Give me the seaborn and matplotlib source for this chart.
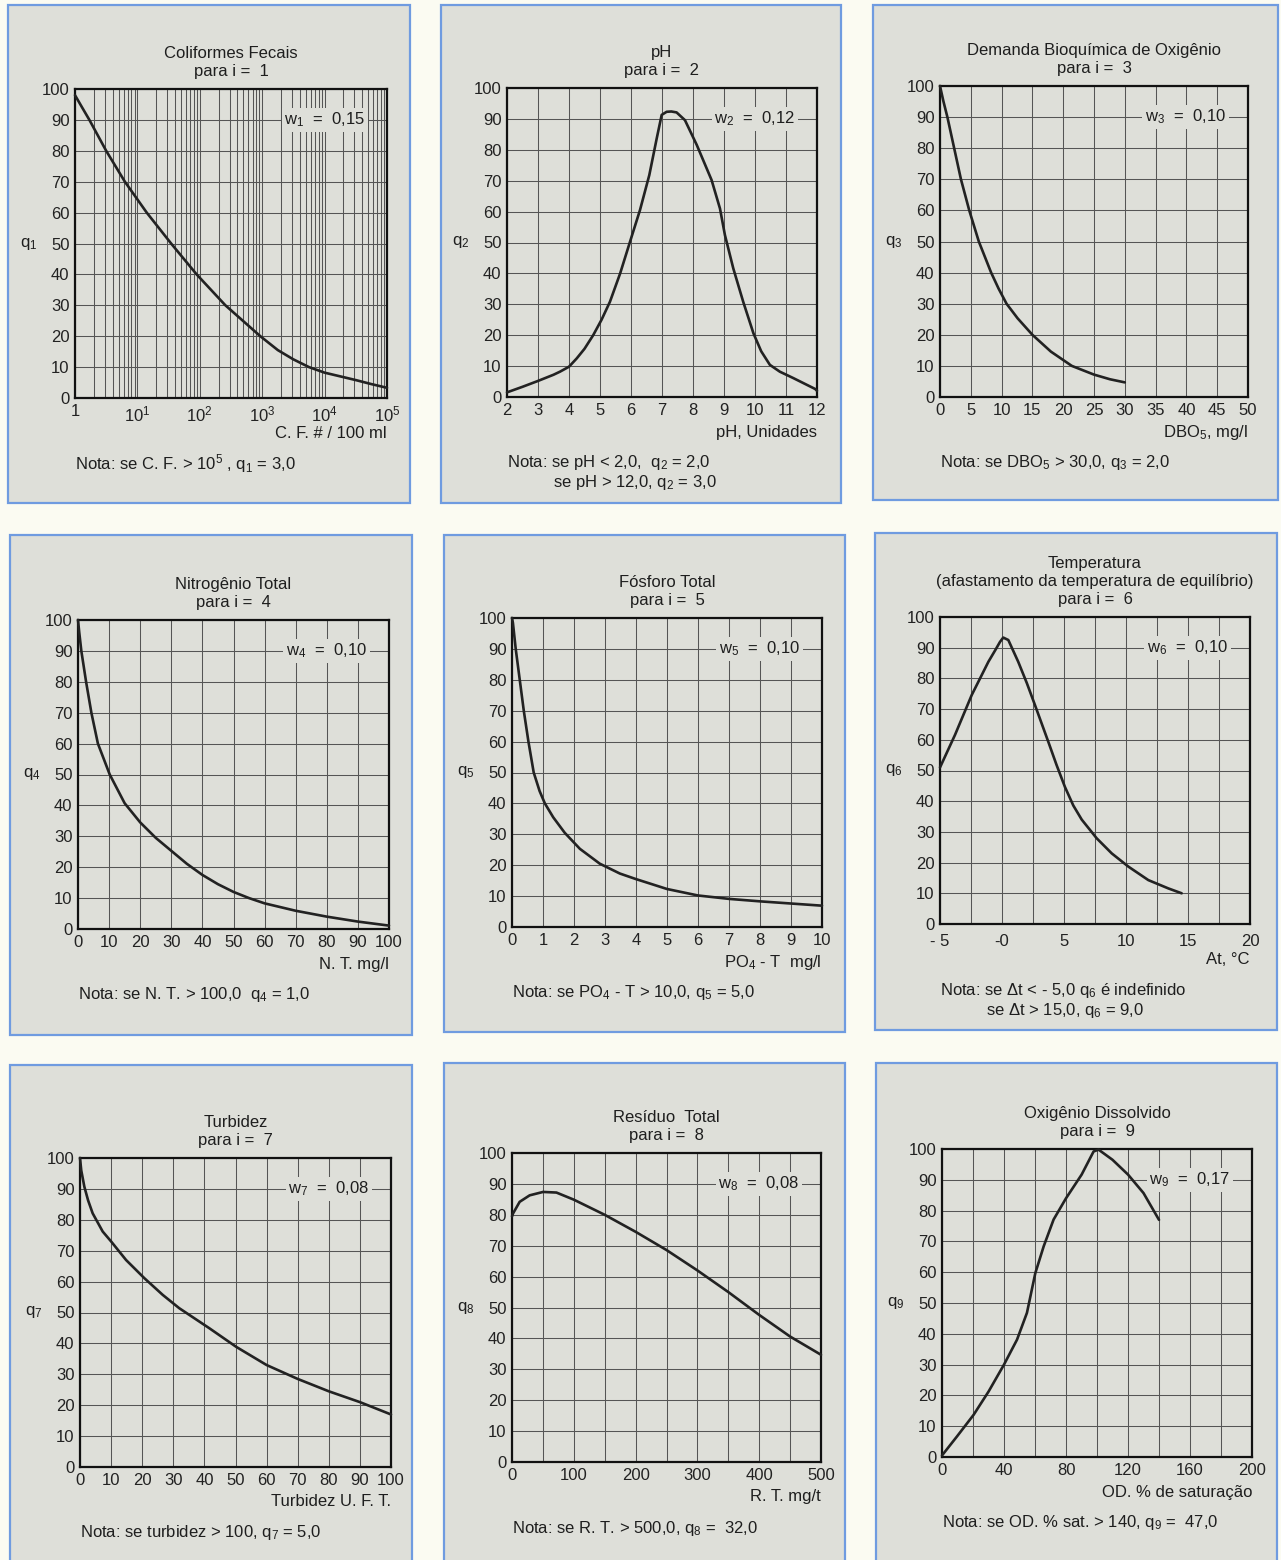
#!/usr/bin/env python3
"""Curvas de qualidade (IQA) - nove painéis q_i em função de cada parâmetro."""

import matplotlib
matplotlib.use("Agg")
import matplotlib.pyplot as plt
import seaborn as sns
from matplotlib.patches import Rectangle
from matplotlib.ticker import MultipleLocator, LogLocator, FixedLocator, FixedFormatter, NullFormatter

sns.set_theme(style="white")
plt.rcParams["font.family"] = ["Liberation Sans", "DejaVu Sans"]
plt.rcParams["mathtext.fontset"] = "custom"
plt.rcParams["mathtext.rm"] = "Liberation Sans"
plt.rcParams["mathtext.it"] = "Liberation Sans:italic"
plt.rcParams["text.color"] = "#1e1e1e"

W, H = 1281, 1560
PANEL_BG = "#dedfd9"
PAGE_BG = "#fbfbf2"
FRAME = "#6f9be0"
INK = "#222222"
GRID = "#555555"

# ---- data ----
cf_x = [1, 1.26, 1.7, 3.16, 6.3, 14.1, 34.7, 89, 257, 933, 1780, 3160, 5620,
        10000, 17800, 31600, 56200, 100000]
cf_q = [98, 94.5, 90, 80, 70, 60, 50, 40, 30, 20, 15.5, 12.5, 10,
        8.2, 7.0, 5.8, 4.5, 3.3]

ph_x = [2, 2.5, 3, 3.5, 3.71, 4.0, 4.25, 4.5, 4.78, 5.05, 5.32, 5.65, 5.97, 6.29,
        6.59, 6.83, 6.99, 7.15, 7.3, 7.47, 7.74, 8.12, 8.6, 8.87, 9.03, 9.3, 9.62,
        9.95, 10.2, 10.48, 10.8, 11.24, 11.6, 11.94, 12]
ph_q = [1.5, 3.3, 5.2, 7.2, 8.2, 9.8, 12.5, 15.6, 20, 25, 30.8, 40, 50.3, 60.5,
        71.8, 83.7, 91.3, 92.3, 92.4, 92.1, 89.6, 81.6, 70.2, 61, 52.4, 41.6, 30.8,
        20.6, 14.8, 10.4, 8.2, 6.1, 4.3, 2.6, 2]

dbo_x = [0, 0.54, 1.2, 2.3, 3.4, 4.75, 6.3, 8.3, 9.5, 10.8, 12.6, 15, 18, 21.4,
         25, 27.6, 30]
dbo_q = [100, 95.2, 90, 80, 70, 60, 50, 40, 34.9, 30, 25.3, 20, 14.6, 10,
         7.2, 5.7, 4.7]

nt_x = [0, 0.4, 1.07, 2.6, 4.3, 6.4, 10.2, 15, 20, 25, 30, 35, 40, 45, 50, 55,
        60, 70, 80, 90, 100]
nt_q = [100, 96, 90, 80, 70, 60, 50, 40.7, 34.5, 29.5, 25.3, 21.1, 17.5, 14.5, 12, 10,
        8.3, 5.9, 4.0, 2.4, 1.1]

po_x = [0, 0.03, 0.12, 0.25, 0.38, 0.53, 0.7, 0.89, 1.06, 1.33, 1.7, 2.19, 2.83,
        3.48, 4, 5, 6, 7, 8, 9, 10]
po_q = [100, 98.4, 90, 80, 70, 60, 50, 44, 40, 35.5, 30.5, 25.3, 20.5,
        17.3, 15.5, 12.3, 10.2, 9.1, 8.3, 7.6, 6.9]

t_x = [-5, -3.79, -2.44, -1.1, -0.5, -0.16, 0.1, 0.51, 1.31, 2.0, 2.66, 3.73, 4.4,
       5.08, 5.75, 6.43, 7.64, 8.85, 10.19, 11.8, 13.41, 14.49]
t_q = [51, 61.6, 74.6, 85.4, 89.5, 91.9, 93.3, 92.5, 85.4, 78.5, 71.3, 59.4, 51.8,
       44.6, 38.6, 34, 27.9, 23, 18.7, 14.3, 11.6, 10]

tb_x = [0, 0.4, 1.4, 2.6, 4.07, 7.3, 10, 14.8, 20.7, 26.6, 31.9, 41.6, 50.2, 60,
        70, 80, 90, 100]
tb_q = [100, 96, 90.7, 86.3, 82.1, 76.2, 73, 67, 61.1, 55.7, 51.4, 44.9, 38.9, 33,
        28.5, 24.5, 21, 17]

rt_x = [0, 1.6, 12.4, 28.6, 50.3, 71.9, 100, 150, 200, 250, 300, 350, 400, 450, 500]
rt_q = [79.5, 80.4, 84.2, 86.3, 87.4, 87.2, 84.9, 80, 74.5, 68.6, 62, 55, 47.6, 40.6, 34.7]

od_x = [0, 9.7, 20.4, 30.1, 40, 48.4, 54.8, 60.2, 65.6, 72, 80, 90.1, 97.8, 101,
        110, 120, 130, 140]
od_q = [0.5, 6.7, 13.7, 21.3, 30, 38.1, 46.8, 59.7, 68.4, 77.1, 84, 91.7, 99.2, 99.8,
        96.5, 91.7, 85.7, 77]

titles = [
    "Coliformes Fecais\npara i =  1",
    "pH\npara i =  2",
    "Demanda Bioquímica de Oxigênio\npara i =  3",
    "Nitrogênio Total\npara i =  4",
    "Fósforo Total\npara i =  5",
    "Temperatura\n(afastamento da temperatura de equilíbrio)\npara i =  6",
    "Turbidez\npara i =  7",
    "Resíduo  Total\npara i =  8",
    "Oxigênio Dissolvido\npara i =  9",
]
weights = ["0,15", "0,12", "0,10", "0,10", "0,10", "0,10", "0,08", "0,08", "0,17"]
xlabels = [
    "C. F. # / 100 ml",
    "pH, Unidades",
    r"DBO$_\mathrm{5}$, mg/l",
    "N. T. mg/l",
    r"PO$_\mathrm{4}$ - T  mg/l",
    "At, °C",
    "Turbidez U. F. T.",
    "R. T. mg/t",
    "OD. % de saturação",
]
notes = [
    (r"Nota: se C. F. > 10$^\mathrm{5}$ , q$_\mathrm{1}$ = 3,0", None),
    (r"Nota: se pH < 2,0,  q$_\mathrm{2}$ = 2,0", r"se pH > 12,0, q$_\mathrm{2}$ = 3,0"),
    (r"Nota: se DBO$_\mathrm{5}$ > 30,0, q$_\mathrm{3}$ = 2,0", None),
    (r"Nota: se N. T. > 100,0  q$_\mathrm{4}$ = 1,0", None),
    (r"Nota: se PO$_\mathrm{4}$ - T > 10,0, q$_\mathrm{5}$ = 5,0", None),
    (r"Nota: se Δt < - 5,0 q$_\mathrm{6}$ é indefinido", r"se Δt > 15,0, q$_\mathrm{6}$ = 9,0"),
    (r"Nota: se turbidez > 100, q$_\mathrm{7}$ = 5,0", None),
    (r"Nota: se R. T. > 500,0, q$_\mathrm{8}$ =  32,0", None),
    (r"Nota: se OD. % sat. > 140, q$_\mathrm{9}$ =  47,0", None),
]

cf_ticks = [1, 10, 100, 1000, 10000, 100000]
cf_ticklabels = ["1", r"10$^\mathrm{1}$", r"10$^\mathrm{2}$", r"10$^\mathrm{3}$",
                 r"10$^\mathrm{4}$", r"10$^\mathrm{5}$"]
t_ticks = [-5, 0, 5, 10, 15, 20]
t_ticklabels = ["- 5", "-0", "5", "10", "15", "20"]

series = [(cf_x, cf_q), (ph_x, ph_q), (dbo_x, dbo_q), (nt_x, nt_q), (po_x, po_q),
          (t_x, t_q), (tb_x, tb_q), (rt_x, rt_q), (od_x, od_q)]
# (xmin, xmax, label step, grid step)
xaxes = [(1, 1e5, None, None), (2, 12, 1, 1), (0, 50, 5, 5), (0, 100, 10, 10),
         (0, 10, 1, 1), (-5, 20, 5, 2.5), (0, 100, 10, 10), (0, 500, 100, 50),
         (0, 200, 40, 20)]

# ---- layout in pixels: plot boxes and blue frames ----
axes_px = [(75, 89, 387, 398), (507, 88, 817, 397), (940, 86, 1248, 397),
           (78, 620, 389, 929), (512, 618, 822, 927), (940, 617, 1250, 924),
           (80, 1158, 391, 1467), (512, 1153, 821, 1462), (942, 1149, 1252, 1457)]
frames_px = [(8, 5, 410, 503), (441, 5, 841, 503), (873, 5, 1278, 500),
             (10, 535, 412, 1035), (444, 535, 845, 1032), (875, 533, 1277, 1030),
             (10, 1065, 412, 1570), (444, 1063, 845, 1570), (876, 1063, 1277, 1570)]

PT = 0.72  # points per pixel at 100 dpi
FS = 12

fig = plt.figure(figsize=(W / 100, H / 100), dpi=100)
fig.patch.set_facecolor(PAGE_BG)

for (l, t, r, b) in frames_px:
    fig.patches.append(Rectangle((l / W, 1 - b / H), (r - l) / W, (b - t) / H,
                                 transform=fig.transFigure, facecolor=PANEL_BG,
                                 edgecolor=FRAME, linewidth=1.6, zorder=-5))

for i in range(9):
    l, t, r, b = axes_px[i]
    ax = fig.add_axes([l / W, 1 - b / H, (r - l) / W, (b - t) / H])
    ax.set_facecolor(PANEL_BG)
    xs, qs = series[i]
    sns.lineplot(x=xs, y=qs, ax=ax, color=INK, linewidth=1.9, estimator=None,
                 sort=False, clip_on=False, zorder=5)

    xmin, xmax, step, gstep = xaxes[i]
    if i == 0:
        ax.set_xscale("log")
        ax.xaxis.set_major_locator(FixedLocator(cf_ticks))
        ax.xaxis.set_major_formatter(FixedFormatter(cf_ticklabels))
        ax.xaxis.set_minor_locator(LogLocator(base=10, subs=range(2, 10)))
        ax.xaxis.set_minor_formatter(NullFormatter())
    elif i == 5:
        ax.xaxis.set_major_locator(FixedLocator(t_ticks))
        ax.xaxis.set_major_formatter(FixedFormatter(t_ticklabels))
        ax.xaxis.set_minor_locator(MultipleLocator(gstep))
    else:
        ax.xaxis.set_major_locator(MultipleLocator(step))
        ax.xaxis.set_minor_locator(MultipleLocator(gstep))
    ax.set_xlim(xmin, xmax)
    ax.set_ylim(0, 100)
    ax.yaxis.set_major_locator(MultipleLocator(10))

    ax.set_axisbelow(True)
    ax.grid(which="major", color=GRID, linewidth=0.75)
    ax.grid(which="minor", axis="x", color=GRID, linewidth=0.75)
    ax.tick_params(which="both", length=0, labelsize=FS, colors=INK)
    ax.tick_params(axis="x", pad=7.5 if i == 5 else 4.5)
    ax.tick_params(axis="y", pad=4)
    for s in ax.spines.values():
        s.set_color("#111111")
        s.set_linewidth(1.6)
    ax.set_xlabel("")
    ax.set_ylabel("")

    # title block above the plot
    ax.annotate(titles[i], xy=(0.5, 1), xycoords="axes fraction",
                xytext=(0, 7.5), textcoords="offset points", ha="center", va="bottom",
                fontsize=FS, linespacing=1.25)
    # q_i label on the left
    ax.annotate(r"q$_\mathrm{%d}$" % (i + 1), xy=(0, 0.5), xycoords="axes fraction",
                xytext=(-46 * PT, 0), textcoords="offset points", ha="center",
                va="center", fontsize=FS)
    # weight label on the 90 grid line
    ax.annotate(r"w$_\mathrm{%d}$  =  %s" % (i + 1, weights[i]), xy=(1, 0.9),
                xycoords="axes fraction", xytext=(-22 * PT, 0),
                textcoords="offset points", ha="right", va="center", fontsize=FS,
                zorder=4, bbox=dict(boxstyle="square,pad=0.15", fc=PANEL_BG, ec="none"))
    # x axis label, right aligned under the ticks
    ax.annotate(xlabels[i], xy=(1, 0), xycoords="axes fraction",
                xytext=(0, -35 * PT), textcoords="offset points", ha="right",
                va="center", fontsize=FS)
    # note below
    n1, n2 = notes[i]
    ax.annotate(n1, xy=(0, 0), xycoords="axes fraction", xytext=(0, -66 * PT),
                textcoords="offset points", ha="left", va="center", fontsize=FS)
    if n2:
        ax.annotate(n2, xy=(0, 0), xycoords="axes fraction",
                    xytext=(46 * PT, -86 * PT), textcoords="offset points",
                    ha="left", va="center", fontsize=FS)

fig.savefig("out.png", dpi=100, facecolor=PAGE_BG)
